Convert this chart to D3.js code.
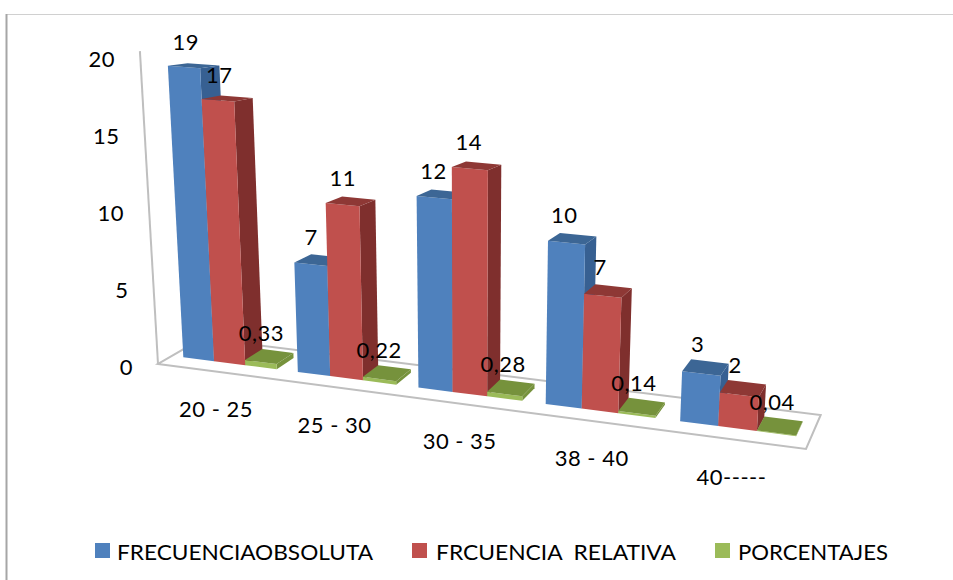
<!DOCTYPE html>
<html>
<head>
<meta charset="utf-8">
<style>
  html, body { margin: 0; padding: 0; background: #fff; }
  svg { display: block; }
  text { font-family: Lato, "Open Sans", sans-serif; fill: #000; }
</style>
<script src="https://cdn.jsdelivr.net/npm/d3@7"></script>
</head>
<body>
<svg id="chart" width="953" height="580"></svg>
<script>
const categories = ["20 - 25", "25 - 30", "30 - 35", "38 - 40", "40-----"];
const seriesNames = ["FRECUENCIAOBSOLUTA", "FRCUENCIA\u00a0\u00a0RELATIVA", "PORCENTAJES"];
const frecuenciaAbsoluta = [19, 7, 12, 10, 3];
const frecuenciaRelativa = [17, 11, 14, 7, 2];
const porcentajes = [0.33, 0.22, 0.28, 0.14, 0.04];
const valueTicks = [0, 5, 10, 15, 20];

const seriesValues = [frecuenciaAbsoluta, frecuenciaRelativa, porcentajes];
const faceColors = [
  { front: "#4f81bd", side: "#376092", top: "#3c6695" },
  { front: "#c0504d", side: "#7f2f2d", top: "#8e3835" },
  { front: "#9bbb59", side: "#76923c", top: "#76923c" }
];
const legendLayout = [
  { box: 95, text: 117, width: 256 },
  { box: 412, text: 436, width: 240 },
  { box: 715, text: 738, width: 150 }
];

const svg = d3.select("#chart");
const fontSize = 22;
const letterSpacing = 0.5;
const numberFormat = v => String(v).replace(".", ",");

// Floor plane of the 3D scene: unit square (u along categories, v into depth) to screen.
const floor = { x00: 158, y00: 364, x10: 806, y10: 449, x01: 202.3, y01: 338.3, x11: 820.7, y11: 415 };
const homography = (() => {
  const { x00, y00, x10, y10, x01, y01, x11, y11 } = floor;
  const dx1 = x10 - x11, dx2 = x01 - x11, sx = x00 - x10 + x11 - x01;
  const dy1 = y10 - y11, dy2 = y01 - y11, sy = y00 - y10 + y11 - y01;
  const den = dx1 * dy2 - dx2 * dy1;
  const g = (sx * dy2 - dx2 * sy) / den;
  const h = (dx1 * sy - sx * dy1) / den;
  const a = x10 - x00 + g * x10, b = x01 - x00 + h * x01;
  const d = y10 - y00 + g * y10, e = y01 - y00 + h * y01;
  return (u, v) => {
    const w = g * u + h * v + 1;
    return [(a * u + b * v + x00) / w, (d * u + e * v + y00) / w];
  };
})();

// Pixel height of the whole value axis and the lean of verticals, both depending on floor position.
const axisHeightAt = (x, y) => 20 * (15.5 - 0.0021 * (x - 244) + 0.037 * (y - 365));
const vanishX = 470, vanishDepth = 5400;

// Scales from data to scene coordinates.
const uBand = d3.scaleBand().domain(categories).range([0, 1]).paddingInner(0.18).paddingOuter(0.1);
const seriesBand = d3.scaleBand().domain(d3.range(seriesNames.length)).range([0, uBand.bandwidth()]);
const zScale = d3.scaleLinear().domain([0, 20]).range([0, 1]);
const depthFront = 0.31, depthBack = 0.73;

function project(u, v, value) {
  const [bx, by] = homography(u, v);
  const h = axisHeightAt(bx, by) * zScale(value);
  return [bx + (bx - vanishX) * h / vanishDepth, by - h];
}
const pathOf = pts => "M" + pts.map(p => p.map(n => n.toFixed(2)).join(",")).join("L") + "Z";

// Outer frame lines of the chart area.
svg.append("line").attr("x1", 6).attr("x2", 953).attr("y1", 14.5).attr("y2", 14.5)
  .attr("stroke", "#d0d0d0").attr("stroke-width", 1);
svg.append("line").attr("x1", 6.5).attr("x2", 6.5).attr("y1", 14).attr("y2", 580)
  .attr("stroke", "#a6a6a6").attr("stroke-width", 2);

// Floor outline and value axis wall edge.
svg.append("path")
  .attr("d", pathOf([project(0, 0, 0), project(1, 0, 0), project(1, 1, 0), project(0, 1, 0)]))
  .attr("fill", "#fff").attr("stroke", "#bfbfbf").attr("stroke-width", 2);
svg.append("line")
  .attr("x1", project(0, 0, 0)[0]).attr("y1", project(0, 0, 0)[1])
  .attr("x2", project(0, 0, 20)[0]).attr("y2", project(0, 0, 20)[1])
  .attr("stroke", "#bfbfbf").attr("stroke-width", 2);

// Value axis tick labels.
svg.append("g").selectAll("text").data(valueTicks).join("text")
  .attr("x", d => project(0, 0, d)[0] - 25)
  .attr("y", d => project(0, 0, d)[1] + 5 + 5 * zScale(d))
  .attr("text-anchor", "end")
  .attr("dominant-baseline", "middle")
  .attr("font-size", fontSize)
  .attr("letter-spacing", letterSpacing)
  .text(d => d);

// Bars, drawn left to right so nearer faces cover the side faces beside them.
const barsLayer = svg.append("g");
const labels = [];
categories.forEach((cat, ci) => {
  seriesValues.forEach((values, si) => {
    const value = values[ci];
    const u0 = uBand(cat) + seriesBand(si);
    const u1 = u0 + seriesBand.bandwidth();
    const colors = faceColors[si];
    const p = (u, v, z) => project(u, v, z);
    const g = barsLayer.append("g");
    g.append("path").attr("fill", colors.side)
      .attr("d", pathOf([p(u1, depthFront, 0), p(u1, depthBack, 0), p(u1, depthBack, value), p(u1, depthFront, value)]));
    g.append("path").attr("fill", colors.front)
      .attr("d", pathOf([p(u0, depthFront, 0), p(u1, depthFront, 0), p(u1, depthFront, value), p(u0, depthFront, value)]));
    g.append("path").attr("fill", colors.top)
      .attr("d", pathOf([p(u0, depthFront, value), p(u1, depthFront, value), p(u1, depthBack, value), p(u0, depthBack, value)]));
    const um = (u0 + u1) / 2, vm = (depthFront + depthBack) / 2;
    const c = p(um, vm, value);
    labels.push({ x: c[0] - 8, y: c[1] - 21, text: numberFormat(value) });
  });
});

// Data labels sit above everything else.
svg.append("g").selectAll("text").data(labels).join("text")
  .attr("x", d => d.x).attr("y", d => d.y)
  .attr("text-anchor", "middle")
  .attr("dominant-baseline", "middle")
  .attr("font-size", fontSize)
  .attr("letter-spacing", letterSpacing)
  .text(d => d.text);

// Category labels follow the front edge of the floor.
svg.append("g").selectAll("text").data(categories).join("text")
  .attr("x", d => project(uBand(d) + uBand.bandwidth() / 2, 0, 0)[0])
  .attr("y", d => project(uBand(d) + uBand.bandwidth() / 2, 0, 0)[1] + 40)
  .attr("text-anchor", "middle")
  .attr("dominant-baseline", "middle")
  .attr("font-size", fontSize)
  .attr("letter-spacing", letterSpacing)
  .text(d => d);

// Legend.
const legend = svg.append("g").selectAll("g").data(seriesNames).join("g");
legend.append("rect")
  .attr("x", (d, i) => legendLayout[i].box).attr("y", 543)
  .attr("width", 15).attr("height", 15)
  .attr("fill", (d, i) => faceColors[i].front);
legend.append("text")
  .attr("x", (d, i) => legendLayout[i].text).attr("y", 560)
  .attr("font-size", 21)
  .attr("textLength", (d, i) => legendLayout[i].width)
  .attr("lengthAdjust", "spacingAndGlyphs")
  .text(d => d);
</script>
</body>
</html>
